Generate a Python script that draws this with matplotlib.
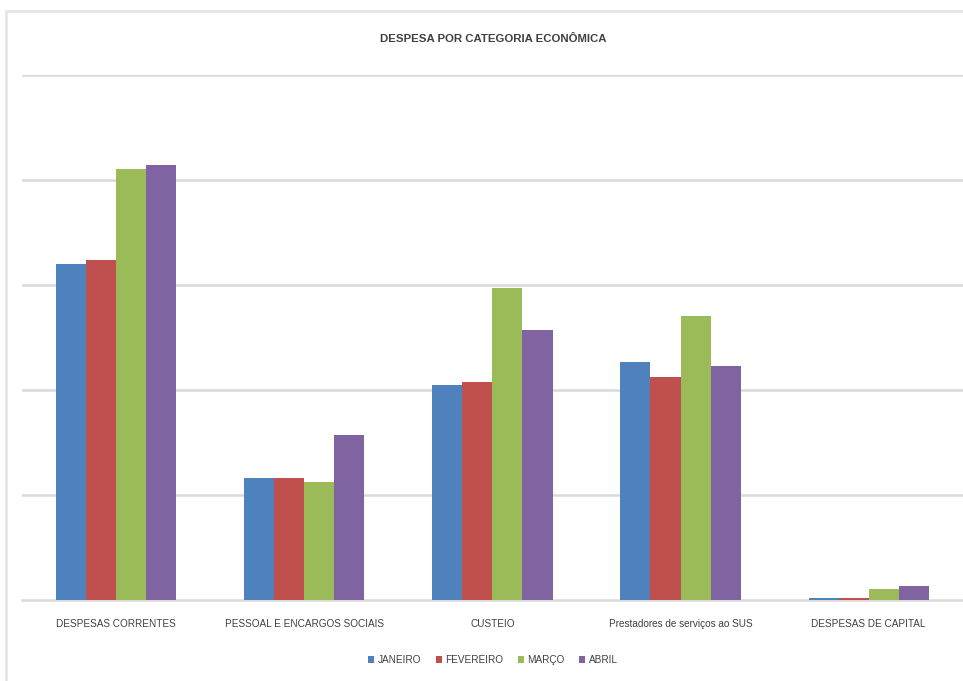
import numpy as np
import matplotlib.pyplot as plt
from matplotlib.lines import Line2D

# Dados
categorias = ["DESPESAS CORRENTES", "PESSOAL E ENCARGOS SOCIAIS", "CUSTEIO",
              "Prestadores de serviços ao SUS", "DESPESAS DE CAPITAL"]
meses = ["JANEIRO", "FEVEREIRO", "MARÇO", "ABRIL"]
janeiro = [3.20, 1.16, 2.05, 2.27, 0.02]
fevereiro = [3.24, 1.16, 2.08, 2.12, 0.02]
marco = [4.10, 1.12, 2.97, 2.70, 0.10]
abril = [4.14, 1.57, 2.57, 2.23, 0.13]
cores = ["#4F81BD", "#C0504D", "#9BBB59", "#8064A2"]

plt.rcParams['font.family'] = ['Liberation Sans', 'DejaVu Sans']

fig = plt.figure(figsize=(9.63, 6.81), dpi=100)
ax = fig.add_axes([0.0228, 0.119, 0.977, 0.771])

x = np.arange(len(categorias))
largura = 0.16
series = [janeiro, fevereiro, marco, abril]
for i, (valores, mes, cor) in enumerate(zip(series, meses, cores)):
    ax.bar(x + (i - 1.5) * largura, valores, largura, color=cor, label=mes, zorder=3)

ax.set_xlim(-0.5, len(categorias) - 0.5)
ax.set_ylim(0, 5)
ax.set_yticks([1, 2, 3, 4, 5])
ax.yaxis.grid(True, color="#D9D9D9", linewidth=1.8, zorder=0)
ax.tick_params(axis="y", left=False, labelleft=False)
ax.tick_params(axis="x", bottom=False, labelsize=7.2, colors="#404040", pad=10)
ax.set_xticks(x)
ax.set_xticklabels(categorias)
for s in ["top", "right", "left"]:
    ax.spines[s].set_visible(False)
ax.spines["bottom"].set_color("#D9D9D9")
ax.spines["bottom"].set_linewidth(1.8)

fig.text(0.512, 0.942, "DESPESA POR CATEGORIA ECONÔMICA", ha="center", va="center",
         fontsize=8.2, fontweight="bold", color="#404040")

fig.legend(loc="center", bbox_to_anchor=(0.512, 0.031), ncol=4, frameon=False,
           fontsize=7.2, handlelength=0.6, handleheight=0.7, handletextpad=0.4,
           columnspacing=1.4, labelcolor="#404040")

# moldura
fig.add_artist(Line2D([0.006, 1.0], [0.984, 0.984], color="#E6E6E6", linewidth=2,
                      transform=fig.transFigure))
fig.add_artist(Line2D([0.006, 0.006], [0.0, 0.984], color="#E6E6E6", linewidth=2,
                      transform=fig.transFigure))

fig.savefig("out.png", dpi=100)
